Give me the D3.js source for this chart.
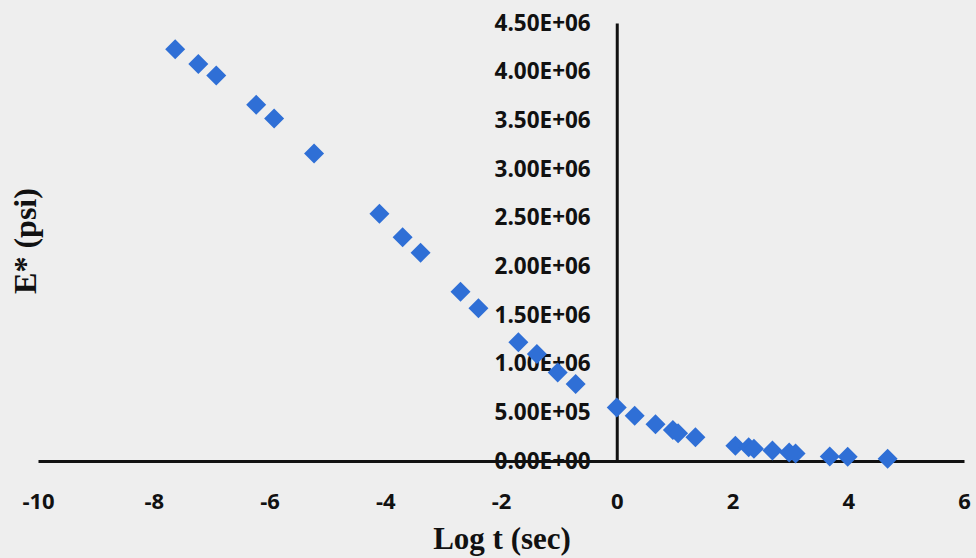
<!DOCTYPE html>
<html><head><meta charset="utf-8">
<script src="https://cdn.jsdelivr.net/npm/d3@7"></script>
<style>
html,body{margin:0;padding:0;background:#eeeeee;}
svg{display:block;}
</style></head>
<body>
<svg id="chart" width="976" height="558"></svg>
<script>
const logT = [-7.63,-7.23,-6.92,-6.23,-5.92,-5.23,-4.10,-3.70,-3.39,-2.70,-2.39,-1.70,-1.38,-1.02,-0.71,
  0.00,0.31,0.67,0.97,1.06,1.36,2.05,2.28,2.37,2.69,2.98,3.09,3.68,3.99,4.68];
const eStar = [4.23e6,4.08e6,3.96e6,3.66e6,3.52e6,3.16e6,2.54e6,2.30e6,2.14e6,1.74e6,1.57e6,1.22e6,1.10e6,0.91e6,0.79e6,
  0.55e6,0.465e6,0.377e6,0.318e6,0.284e6,0.243e6,0.157e6,0.142e6,0.125e6,0.109e6,0.087e6,0.077e6,0.046e6,0.044e6,0.024e6];
const xTicks = [-10,-8,-6,-4,-2,0,2,4,6];
const yTicks = [0,0.5e6,1e6,1.5e6,2e6,2.5e6,3e6,3.5e6,4e6,4.5e6];
const xTitle = "Log t (sec)";
const yTitle = "E* (psi)";

const svg = d3.select("#chart");
const x = d3.scaleLinear().domain([-10,6]).range([38,964]);
const y = d3.scaleLinear().domain([0,4.5e6]).range([461,23]);

function fmtE(v){
  if(v===0) return "0.00E+00";
  const e = Math.floor(Math.log10(v));
  const m = v/Math.pow(10,e);
  return m.toFixed(2)+"E+"+String(e).padStart(2,"0");
}

const xAxis = d3.axisBottom(x).tickValues(xTicks).tickSize(0).tickPadding(48).tickFormat(d=>String(d));
const gx = svg.append("g").attr("transform",`translate(0,${y(0)})`).call(xAxis);
gx.select(".domain").attr("stroke","#111").attr("stroke-width",3);
gx.selectAll("text").attr("font-family","'Open Sans',sans-serif").attr("font-weight","bold")
  .attr("font-size",22).attr("fill","#111").attr("dy","0");

const yAxis = d3.axisLeft(y).tickValues(yTicks).tickSize(0).tickPadding(26).tickFormat(fmtE);
const gy = svg.append("g").attr("transform",`translate(${x(0)},0)`).call(yAxis);
gy.select(".domain").attr("stroke","#111").attr("stroke-width",3);
gy.selectAll("text").attr("font-family","'Open Sans',sans-serif").attr("font-weight","bold")
  .attr("font-size",22.5).attr("fill","#111");

const sym = d3.symbol().type(d3.symbolSquare).size(200);
svg.append("g").selectAll("path").data(logT.map((d,i)=>[d,eStar[i]])).join("path")
  .attr("d",sym)
  .attr("transform",d=>`translate(${x(d[0])},${y(d[1])}) rotate(45)`)
  .attr("fill","#2f6fd6");

svg.append("text").attr("x",502).attr("y",549).attr("text-anchor","middle")
  .attr("font-family","'Liberation Serif','Times New Roman',serif").attr("font-weight","bold")
  .attr("font-size",31).attr("fill","#111").text(xTitle);
svg.append("text").attr("transform","translate(36,241) rotate(-90)").attr("text-anchor","middle")
  .attr("font-family","'Liberation Serif','Times New Roman',serif").attr("font-weight","bold")
  .attr("font-size",32).attr("fill","#111").text(yTitle);
</script>
</body></html>
